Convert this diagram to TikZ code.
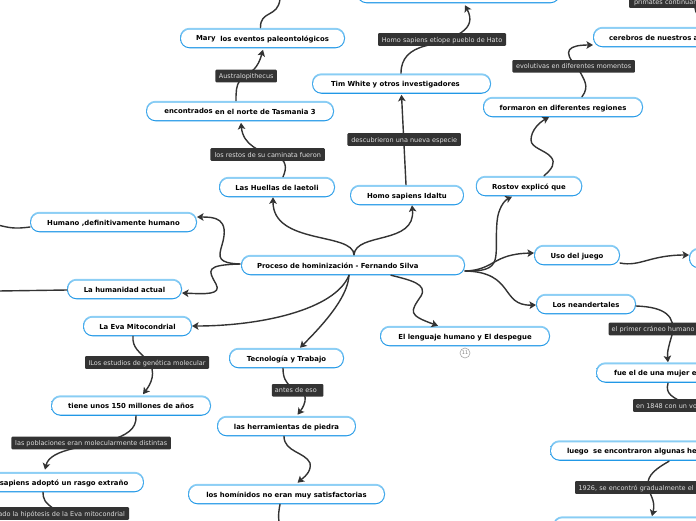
\documentclass[tikz,border=0pt]{standalone}
\usepackage{fontspec}
\setmainfont{DejaVu Sans}
\usetikzlibrary{arrows.meta}
\definecolor{ink}{HTML}{333333}
\definecolor{lblfill}{HTML}{333333}
\definecolor{lbltext}{HTML}{DDDDDD}
\definecolor{blueT}{HTML}{8FD0F5}
\definecolor{blueB}{HTML}{1F97E6}
\tikzset{
  topic/.style={rounded corners=9.5pt, top color=blueT, bottom color=blueB, middle color=blueB!70!blueT, minimum height=20.5pt, inner sep=0pt, outer sep=0pt,
    font=\fontsize{6.9}{8}\selectfont\bfseries, text=black, text height=7.5pt, text depth=1pt,
    path picture={\fill[white,rounded corners=8.5pt] ([shift={(1.1pt,-2pt)}]path picture bounding box.north west) rectangle ([shift={(-1.1pt,1.1pt)}]path picture bounding box.south east);}},
  tag/.style={fill=lblfill, text=lbltext, rounded corners=1pt, inner sep=0pt, outer sep=0pt, minimum height=12.6pt, text height=6.5pt, text depth=1.2pt, font=\fontsize{6.5}{8}\selectfont},
  conn/.style={draw=ink, line width=1.4pt, line cap=round},
  arr/.style={conn, -{Stealth[length=6.5pt,width=7.5pt,inset=1.5pt]}},
  count/.style={circle, draw=gray!70, fill=white, line width=.6pt, minimum size=10pt, inner sep=0pt, text=gray, font=\fontsize{5}{6}\selectfont},
}
\begin{document}
\begin{tikzpicture}[x=1pt,y=-1pt]
\useasboundingbox (0,0) rectangle (696,520);
\clip (0,0) rectangle (696,520);
% free ends
\coordinate (offA) at (280,-1);
\coordinate (offB) at (-2,225);
\coordinate (offC) at (-2,291);
\coordinate (offD) at (279,522);
\coordinate (offE) at (56,510);
\coordinate (offF) at (695,8);
\coordinate (offG) at (688,405);
% topics
\node[topic,minimum width=224pt,inner xsep=16pt,text width=192pt,align=left] (root) at (353,265) {Proceso de hominización - Fernando Silva};
\node[topic,minimum width=116pt] (huellas) at (277,187) {Las Huellas de laetoli};
\node[topic,minimum width=114pt] (idaltu) at (407,195) {Homo sapiens Idaltu};
\node[topic,minimum width=106.5pt] (rostov) at (529,186) {Rostov explicó que};
\node[topic,minimum width=86pt] (uso) at (577,255) {Uso del juego};
\node[topic,minimum width=100pt] (neand) at (586,304) {Los neandertales};
\node[topic,minimum width=170pt] (lengua) at (465,336) {El lenguaje humano y El despegue};
\node[topic,minimum width=115pt] (tecno) at (286.5,358) {Tecnología y Trabajo};
\node[topic,minimum width=139pt] (herr) at (286.5,426) {las herramientas de piedra};
\node[topic,minimum width=197pt] (homi) at (286.5,494) {los homínidos no eran muy satisfactorias};
\node[topic,minimum width=160pt] (tiene) at (131,405.5) {tiene unos 150 millones de años};
\node[topic,minimum width=160pt] (sapiens) at (64,482) {sapiens adoptó un rasgo extraño};
\node[topic,minimum width=109pt] (eva) at (137.5,326) {La Eva Mitocondrial};
\node[topic,minimum width=115pt] (actual) at (124.5,289) {La humanidad actual};
\node[topic,minimum width=167pt] (humano) at (113.5,222) {Humano ,definitivamente humano};
\node[topic,minimum width=165pt] (mary) at (262.5,38) {\raisebox{.6pt}{Mary}\ \ los eventos paleontológicos};
\node[topic,minimum width=188pt] (encon) at (240,111) {\raisebox{.6pt}{encontrados} en el norte de Tasmania 3};
\node[topic,minimum width=179pt,inner xsep=19pt,text width=141pt,align=left] (tim) at (401.5,83.5) {Tim White y otros investigadores};
\node[topic,minimum width=203pt] (cima) at (458.5,-7) {};
\node[topic,minimum width=160pt] (formaron) at (563,107) {formaron en diferentes regiones};
\node[topic,anchor=west,minimum width=220pt,inner xsep=16pt,text width=188pt,align=left] (cerebros) at (593,37) {cerebros de nuestros a};
\node[topic,anchor=west,minimum width=100pt] (derecha) at (689,258) {};
\node[topic,anchor=west,minimum width=200pt,inner xsep=18pt,text width=164pt,align=left] (fue) at (596,372.5) {fue el de una mujer e};
\node[topic,anchor=west,minimum width=240pt,inner xsep=17pt,text width=206pt,align=left] (luego) at (550,450.5) {luego\ \ se encontraron algunas he};
\node[topic,anchor=west,minimum width=240pt] (abajo) at (553,526.5) {};
% connectors
\draw[arr] ([xshift=1pt]root.north) .. controls (353,232) and (273,245) .. ([xshift=-4pt]huellas.south);
\draw[arr] ([xshift=1pt]root.north) .. controls (356,232) and (416,245) .. ([xshift=5pt]idaltu.south);
\draw[arr] ([xshift=-1pt]idaltu.north) -- ([yshift=-1pt]tim.south);
\draw[arr] ([xshift=6pt]huellas.north) .. controls (287,168) and (287,160) .. (275,155) .. controls (260,152) and (243,145) .. ([xshift=1pt,yshift=-1.5pt]encon.south);
\draw[arr] ([xshift=-4pt]encon.north) .. controls (236,92) and (236,86) .. (240,80) .. controls (252,72) and (258,68) .. ([xshift=.5pt,yshift=-1.5pt]mary.south);
\draw[conn] ([xshift=-2pt]mary.north) .. controls (260,10) and (278,18) .. (offA);
\draw[arr] ([xshift=-.5pt]tim.north) .. controls (401,58) and (410,50) .. (425,46) .. controls (455,38) and (478,30) .. ([xshift=6.5pt,yshift=-2pt]cima.south);
\draw[arr] ([yshift=-6pt]root.east) .. controls (505,272) and (494,258) .. (497,222) .. controls (498,208) and (505,200) .. ([xshift=-17pt,yshift=-.5pt]rostov.south);
\draw[arr] ([yshift=-6pt]root.east) .. controls (495,270) and (492,254) .. ([yshift=2pt]uso.west);
\draw[arr] ([yshift=-6pt]root.east) .. controls (515,272) and (500,306) .. ([yshift=-1pt]neand.west);
\draw[arr] ([xshift=38pt]root.south) .. controls (410,280) and (428,284) .. (421,296) .. controls (410,312) and (408,315) .. ([xshift=-27pt]lengua.north);
\draw[arr] ([yshift=-8pt]uso.east) .. controls (640,267) and (650,255) .. ([yshift=3pt]derecha.west);
\draw[arr] ([yshift=-2pt]neand.east) .. controls (665,307) and (676,316) .. (672,335) .. controls (669,345) and (667,352) .. ([xshift=-28pt]fue.north);
\draw[conn] ([xshift=-28pt,yshift=-.5pt]fue.south) .. controls (665,394) and (672,397) .. (offG);
\draw[arr] ([xshift=-1pt,yshift=-.5pt]luego.south) .. controls (657,468) and (647,475) .. (648,485) .. controls (649,495) and (656,500) .. ([xshift=-21pt]abajo.north);
\draw[arr] ([xshift=-1pt,yshift=1pt]root.west) .. controls (218,263) and (218,258) .. (222,245) .. controls (230,218) and (215,217) .. ([yshift=5pt]humano.east);
\draw[arr] ([xshift=-1pt,yshift=1pt]root.west) .. controls (205,265) and (208,270) .. (216,284) .. controls (222,295) and (205,294) .. ([yshift=-4pt]actual.east);
\draw[arr] ([xshift=-4pt]root.south) .. controls (335,310) and (260,326) .. (eva.east);
\draw[arr] ([xshift=-4pt]root.south) .. controls (348,290) and (338,310) .. ([xshift=13.5pt]tecno.north);
\draw[conn] ([yshift=-5pt]humano.west) .. controls (15,229) and (10,228) .. (offB);
\draw[conn] ([yshift=-1pt]actual.west) -- (offC);
\draw[arr] ([xshift=-4.5pt]eva.south) .. controls (132,348) and (140,352) .. (147,360) .. controls (158,372) and (150,385) .. ([xshift=12pt,yshift=1pt]tiene.north);
\draw[arr] ([xshift=5pt]tiene.south) .. controls (137,430) and (125,435) .. (112,440) .. controls (90,447) and (50,448) .. ([xshift=-19pt,yshift=2pt]sapiens.north);
\draw[conn] ([xshift=-21pt]sapiens.south) .. controls (43,498) and (44,503) .. (offE);
\draw[arr] ([xshift=-3.5pt]tecno.south) .. controls (283,378) and (286,382) .. (290,386) .. controls (312,390) and (305,405) .. ([xshift=11pt,yshift=1pt]herr.north);
\draw[arr] ([xshift=-2.5pt]herr.south) .. controls (284,452) and (305,452) .. (310,463) .. controls (312,472) and (303,478) .. ([xshift=11pt,yshift=1pt]homi.north);
\draw[conn] ([xshift=-6.5pt]homi.south) .. controls (279,510) and (278,515) .. (offD);
\draw[arr] ([xshift=15pt]rostov.north) .. controls (552,169) and (556,163) .. (551,157) .. controls (545,150) and (531,148) .. (531,140) .. controls (531,130) and (540,122) .. ([xshift=-14pt]formaron.south);
\draw[arr] ([xshift=19pt]formaron.north) .. controls (590,86) and (584,80) .. (578,68) .. controls (560,50) and (570,45) .. ([yshift=-8pt]cerebros.west);
\draw[conn] ([xshift=94pt]cerebros.north) .. controls (691,22) and (697,16) .. (offF);
% tags
\node[tag,minimum width=128pt] (t1) at (442,39.5) {Homo sapiens etíope pueblo de Hato};
\node[tag,minimum width=61.5pt] (t2) at (246.2,76) {Australopithecus};
\node[tag,minimum width=114.5pt] (t3) at (267.7,154.5) {los restos de su caminata fueron};
\node[tag,minimum width=113.5pt] (t4) at (404.2,139.5) {descubrieron una nueva especie};
\node[tag,minimum width=122.5pt] (t5) at (573.7,66.3) {evolutivas en diferentes momentos};
\node[tag,anchor=west,minimum width=100pt,inner xsep=3pt,text width=90pt,align=left] (t6) at (629,1.5) {primates continuaro};
\node[tag,minimum width=124pt] (t7) at (147,362.5) {ILos estudios de genética molecular};
\node[tag,minimum width=51.5pt,inner xsep=3pt,text width=45.5pt,align=left] (t8) at (297.7,390.3) {antes de eso};
\node[tag,minimum width=159.5pt] (t9) at (91.2,443) {las poblaciones eran molecularmente distintas};
\node[tag,anchor=east,minimum width=150pt,inner xsep=4pt,text width=142pt,align=right] (t10) at (129,513.5) {ado la hipótesis de la Eva mitocondrial};
\node[tag,anchor=west,minimum width=120pt,inner xsep=3pt,text width=114pt,align=left] (t11) at (608.7,329) {el primer cráneo humano};
\node[tag,anchor=west,minimum width=90pt,inner xsep=3pt,text width=84pt,align=left] (t12) at (633,405.5) {en 1848 con un vo};
\node[tag,anchor=west,minimum width=150pt,inner xsep=3.5pt,text width=143pt,align=left] (t13) at (575,487.5) {1926, se encontró gradualmente el};
\node[count] (n11) at (465,353) {11};
\end{tikzpicture}
\end{document}
